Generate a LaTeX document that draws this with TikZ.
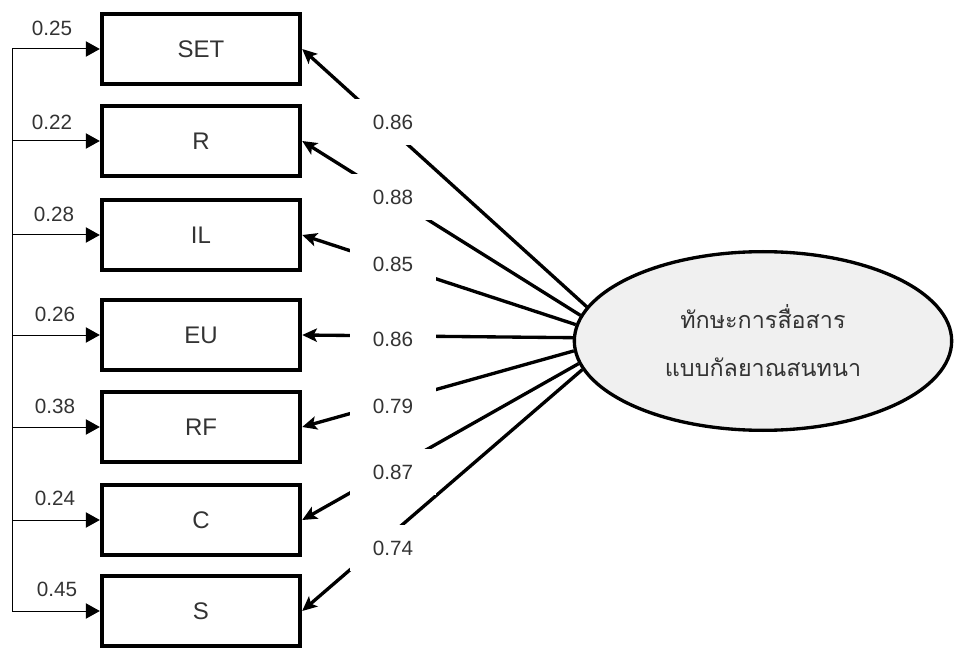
\documentclass[tikz,border=0pt]{standalone}
\usepackage{fontspec}
\setmainfont{Liberation Sans}
\newfontfamily\thaifont[Script=Thai]{Loma}
\usetikzlibrary{arrows.meta,shapes.geometric}
\definecolor{txtgray}{RGB}{51,51,51}
\definecolor{latfill}{RGB}{240,240,240}

\begin{document}
\begin{tikzpicture}[x=0.75pt,y=0.75pt,yscale=-1,
  obsbox/.style={draw,line width=2.8pt,minimum width=149pt,minimum height=52pt,inner sep=0pt,
    text=txtgray,font=\fontsize{18}{20}\selectfont},
  latent/.style={ellipse,draw,fill=latfill,line width=2.5pt,minimum width=283pt,minimum height=134pt,
    inner sep=0pt,text=txtgray,align=center,font=\thaifont\fontsize{17.5}{36}\selectfont},
  errlbl/.style={inner sep=0pt,text=txtgray,font=\fontsize{15.5}{17}\selectfont},
  loadlbl/.style={fill=white,minimum width=65pt,minimum height=34pt,inner sep=0pt,
    text=txtgray,font=\fontsize{15.5}{17}\selectfont},
  errarrow/.style={line width=0.75pt,-{Triangle[length=10.5pt,width=11.5pt]}},
  loadarrow/.style={line width=2.5pt,-{Stealth[length=11pt,width=10pt,inset=2.5pt]}}]

\useasboundingbox (0,0) rectangle (954,649);

%Shape: Rectangle
\node[obsbox] (set) at (201,49) {SET};
\node[obsbox] (r) at (201,141) {R};
\node[obsbox] (il) at (201,235) {IL};
\node[obsbox] (eu) at (201,335) {EU};
\node[obsbox] (rf) at (201,427) {RF};
\node[obsbox] (c) at (201,520) {C};
\node[obsbox] (s) at (201,611) {S};

%Shape: Ellipse
\node[latent] (comm) at (763,341) {ทักษะการสื่อสาร\\แบบกัลยาณสนทนา};

%Error terms
\coordinate (e1) at (12,49);
\coordinate (e2) at (12,141);
\coordinate (e3) at (12,235);
\coordinate (e4) at (12,335);
\coordinate (e5) at (12,427);
\coordinate (e6) at (12,520);
\coordinate (e7) at (12,611);
\draw[line width=0.75pt] (e1) -- (e7);
\draw[errarrow] (e1) -- (set.west);
\draw[errarrow] (e2) -- (r.west);
\draw[errarrow] (e3) -- (il.west);
\draw[errarrow] (e4) -- (eu.west);
\draw[errarrow] (e5) -- (rf.west);
\draw[errarrow] (e6) -- (c.west);
\draw[errarrow] (e7) -- (s.west);
\node[errlbl] (w1) at (52,28) {0.25};
\node[errlbl] (w2) at (52,122) {0.22};
\node[errlbl] (w3) at (54,214) {0.28};
\node[errlbl] (w4) at (55,314) {0.26};
\node[errlbl] (w5) at (55,406) {0.38};
\node[errlbl] (w6) at (55,498) {0.24};
\node[errlbl] (w7) at (57,589) {0.45};

%Straight Lines: loadings
\draw[loadarrow] (comm.169.6) -- (set.east);
\draw[loadarrow] (comm.172.5) -- (r.east);
\draw[loadarrow] (comm.175.1) -- (il.east);
\draw[loadarrow] (comm.179) -- (eu.east);
\draw[loadarrow] (comm.183.6) -- (rf.east);
\draw[loadarrow] (comm.187.4) -- (c.east);
\draw[loadarrow] (comm.189.8) -- (s.east);
\node[loadlbl] (l1) at (393,122) {0.86};
\node[loadlbl] (l2) at (393,197) {0.88};
\node[loadlbl] (l3) at (393,264) {0.85};
\node[loadlbl] (l4) at (393,339) {0.86};
\node[loadlbl] (l5) at (393,406) {0.79};
\node[loadlbl] (l6) at (393,472) {0.87};
\node[loadlbl] (l7) at (393,548) {0.74};

\end{tikzpicture}
\end{document}
